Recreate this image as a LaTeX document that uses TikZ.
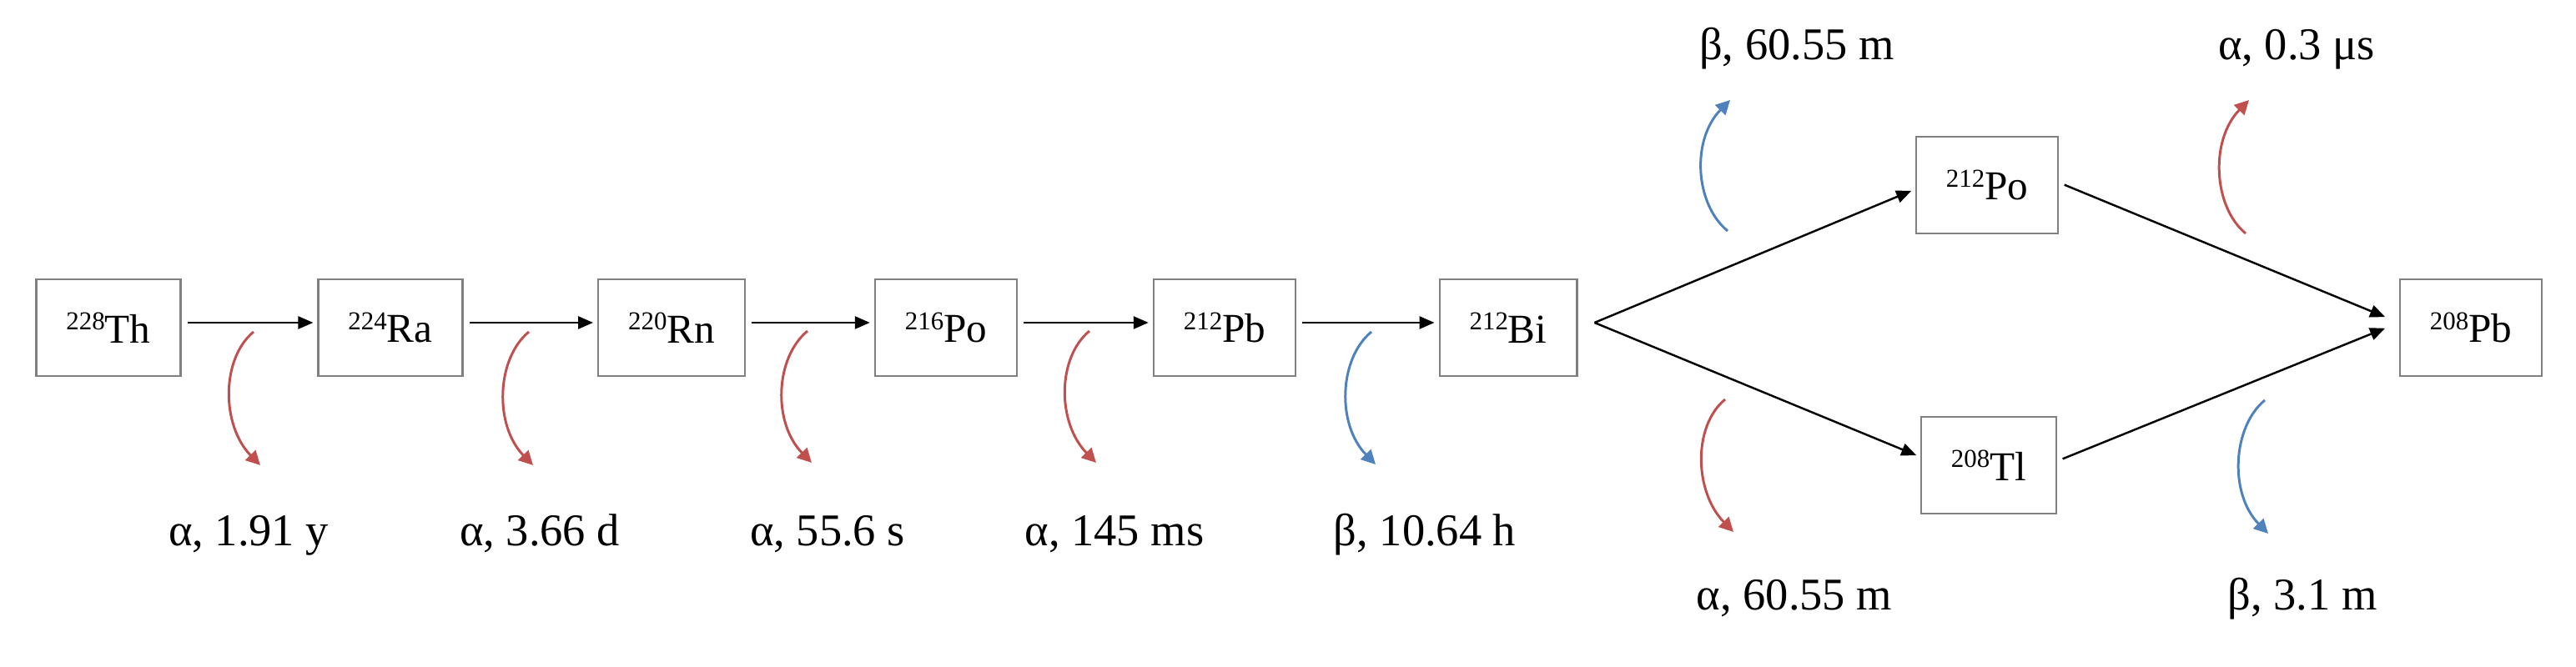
\documentclass[tikz,border=0pt]{standalone}
\usepackage{fontspec}
\setmainfont{Liberation Serif}
\usepackage{tikz}
\usetikzlibrary{arrows.meta, calc}
\definecolor{alphared}{RGB}{192,80,77}
\definecolor{betablue}{RGB}{79,129,189}
\newcommand{\nuc}[2]{\raisebox{4.5pt}{\fontsize{8.8}{9}\selectfont #1}#2}

\begin{document}
\begin{tikzpicture}[
            nuclide/.style={rectangle, draw=gray, line width=0.6pt, minimum height=1.16cm, inner xsep=0.36cm, font=\fontsize{14}{16}\selectfont},
            arrow/.style={-{Triangle[length=0.18cm,width=0.15cm]}, line width=0.7pt, shorten <=0.07cm, shorten >=0.05cm},
            decay/.style={-{Triangle[length=0.17cm,width=0.17cm]}, line width=0.85pt},
            fall/.style={decay, to path={.. controls +(-0.39,-0.32) and +(-0.47,0.48) .. (\tikztotarget)}},
            rise/.style={decay, to path={.. controls +(-0.39,0.32) and +(-0.47,-0.48) .. (\tikztotarget)}},
            halflife/.style={anchor=base, font=\fontsize{15.5}{18}\selectfont}
        ]
\useasboundingbox (0,0) rectangle (30.88,8);

% Main chain
            \node[nuclide] (th) at (1.30,4.07) {\nuc{228}{Th}};
            \node[nuclide] (ra) at (4.68,4.07) {\nuc{224}{Ra}};
            \node[nuclide] (rn) at (8.05,4.07) {\nuc{220}{Rn}};
            \node[nuclide] (po216) at (11.34,4.07) {\nuc{216}{Po}};
            \node[nuclide] (pb212) at (14.68,4.07) {\nuc{212}{Pb}};
            \node[nuclide] (bi) at (18.08,4.07) {\nuc{212}{Bi}};

            \draw[arrow] ([yshift=.6mm]th.east) -- ([yshift=.6mm]ra.west);
            \draw[arrow] ([yshift=.6mm]ra.east) -- ([yshift=.6mm]rn.west);
            \draw[arrow] ([yshift=.6mm]rn.east) -- ([yshift=.6mm]po216.west);
            \draw[arrow] ([yshift=.6mm]po216.east) -- ([yshift=.6mm]pb212.west);
            \draw[arrow] ([yshift=.6mm]pb212.east) -- ([yshift=.6mm]bi.west);

            \coordinate (s1) at (3.04,4.02);
            \coordinate (s2) at (6.34,4.02);
            \coordinate (s3) at (9.68,4.03);
            \coordinate (s4) at (13.06,4.03);
            \coordinate (s5) at (16.44,4.02);
            \draw[fall, alphared] (s1) to ++(0.08,-1.60);
            \draw[fall, alphared] (s2) to ++(0.05,-1.60);
            \draw[fall, alphared] (s3) to ++(0.05,-1.58);
            \draw[fall, alphared] (s4) to ++(0.08,-1.58);
            \draw[fall, betablue] (s5) to ++(0.05,-1.59);

            \node[halflife] (t1) at (2.98,1.45) {α, 1.91 y};
            \node[halflife] (t2) at (6.47,1.45) {α, 3.66 d};
            \node[halflife] (t3) at (9.92,1.45) {α, 55.6 s};
            \node[halflife] (t4) at (13.36,1.45) {α, 145 ms};
            \node[halflife] (t5) at (17.08,1.45) {β, 10.64 h};

% Branching at Bi
            \node[nuclide] (po212) at (23.82,5.78) {\nuc{212}{Po}};
            \node[nuclide] (tl) at (23.84,2.42) {\nuc{208}{Tl}};
            \node[nuclide] (pb208) at (29.62,4.07) {\nuc{208}{Pb}};

            \coordinate (split) at ([xshift=2mm, yshift=.6mm]bi.east);
            \draw[arrow, shorten <=0pt] (split) -- ([yshift=-.5mm]po212.west);
            \draw[arrow, shorten <=0pt] (split) -- ([yshift=1mm]tl.west);
            \draw[arrow, shorten >=1.8mm] ([yshift=.3mm]po212.east) -- ([yshift=.6mm]pb208.west);
            \draw[arrow, shorten >=1.8mm] ([yshift=.5mm]tl.east) -- ([yshift=.6mm]pb208.west);

            \coordinate (u1) at (20.71,5.23);
            \coordinate (u2) at (26.92,5.20);
            \coordinate (d1) at (20.68,3.21);
            \coordinate (d2) at (27.15,3.20);
            \draw[rise, betablue] (u1) to ++(0.03,1.57);
            \draw[rise, alphared] (u2) to ++(0.04,1.60);
            \draw[fall, alphared] (d1) to ++(0.10,-1.59);
            \draw[fall, betablue] (d2) to ++(0.04,-1.60);

            \node[halflife] (t6) at (21.54,7.28) {β, 60.55 m};
            \node[halflife] (t7) at (27.53,7.28) {α, 0.3 μs};
            \node[halflife] (t8) at (21.51,0.68) {α, 60.55 m};
            \node[halflife] (t9) at (27.60,0.68) {β, 3.1 m};

        \end{tikzpicture}
\end{document}
